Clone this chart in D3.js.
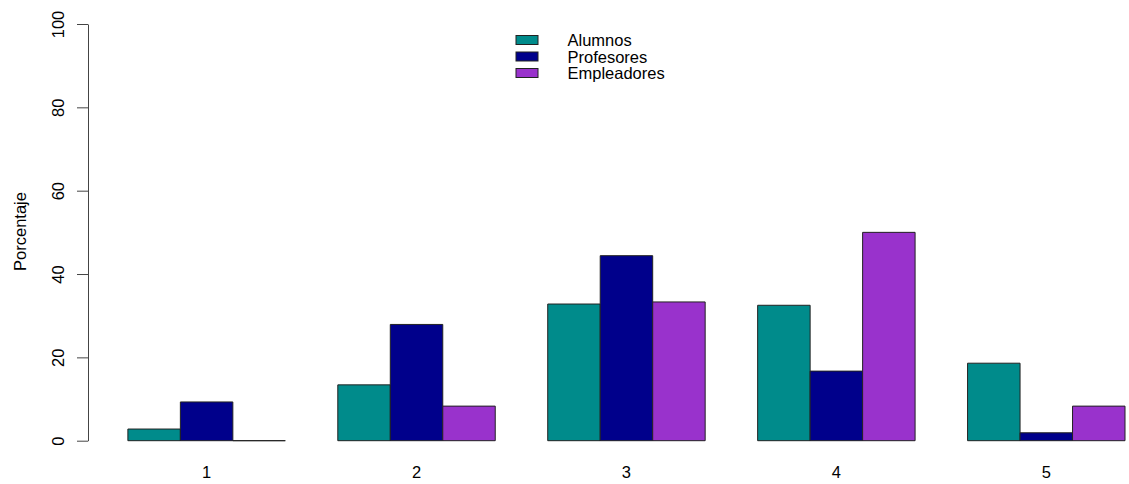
<!DOCTYPE html>
<html><head><meta charset="utf-8">
<script src="https://cdn.jsdelivr.net/npm/d3@7"></script>
<style>body{margin:0;background:#fff}svg{display:block;font-family:"Liberation Sans",Arial,sans-serif}</style>
</head><body><svg id="c" width="1129" height="484"></svg>
<script>
const categories = ["1","2","3","4","5"];
const seriesNames = ["Alumnos","Profesores","Empleadores"];
const seriesColors = ["#008B8B","#00008B","#9932CC"];
const alumnos = [2.8, 13.4, 32.8, 32.5, 18.6];
const profesores = [9.3, 27.9, 44.4, 16.7, 1.9];
const empleadores = [0, 8.3, 33.3, 50.0, 8.3];
const yTicks = [0,20,40,60,80,100];
const yLabel = "Porcentaje";

const series = [alumnos, profesores, empleadores];
const svg = d3.select("#c");
const FS = 16.5;
// x in bar-width units (R barplot beside, space = c(0,1))
const x = d3.scaleLinear().domain([0.24, 20.76]).range([88, 1164.9]);
const y = d3.scaleLinear().domain([0, 100]).range([440.7, 24]);

const nS = series.length;
categories.forEach((c, g) => {
  const start = 1 + g * (nS + 1);
  series.forEach((s, i) => {
    const v = s[g];
    const x0 = x(start + i), x1 = x(start + i + 1), y0 = y(0), y1 = y(v);
    svg.append("path")
      .attr("d", `M${x0},${y0}L${x0},${y1}L${x1},${y1}L${x1},${y0}Z`)
      .attr("fill", seriesColors[i]).attr("stroke", "#222").attr("stroke-width", 1);
  });
  svg.append("text").attr("x", x(start + nS / 2)).attr("y", 472)
    .attr("text-anchor", "middle").attr("dominant-baseline", "central")
    .attr("font-size", FS).text(c);
});

// y axis
const ax = svg.append("g").attr("transform", "translate(88,0)")
  .call(d3.axisLeft(y).tickValues(yTicks).tickSize(11).tickSizeOuter(0).tickPadding(0).tickFormat(d3.format("d")));
ax.select(".domain").attr("stroke", "#444");
ax.selectAll(".tick line").attr("stroke", "#444");
ax.selectAll(".tick text").attr("font-size", FS).attr("fill", "#000")
  .attr("font-family", '"Liberation Sans",Arial,sans-serif')
  .attr("x", null).attr("dy", null)
  .attr("transform", "translate(-30.5,0) rotate(-90)")
  .attr("text-anchor", "middle").attr("dominant-baseline", "central");

svg.append("text").attr("transform", "translate(19.5,231.5) rotate(-90)")
  .attr("text-anchor", "middle").attr("dominant-baseline", "central")
  .attr("font-size", FS).text(yLabel);

// legend
const lg = svg.append("g");
seriesNames.forEach((n, i) => {
  const cy = 40 + i * 16.5;
  lg.append("rect").attr("x", 516).attr("y", cy - 4.5).attr("width", 22).attr("height", 9)
    .attr("fill", seriesColors[i]).attr("stroke", "#222");
  lg.append("text").attr("x", 567.5).attr("y", cy).attr("dominant-baseline", "central")
    .attr("font-size", FS).text(n);
});
</script></body></html>
